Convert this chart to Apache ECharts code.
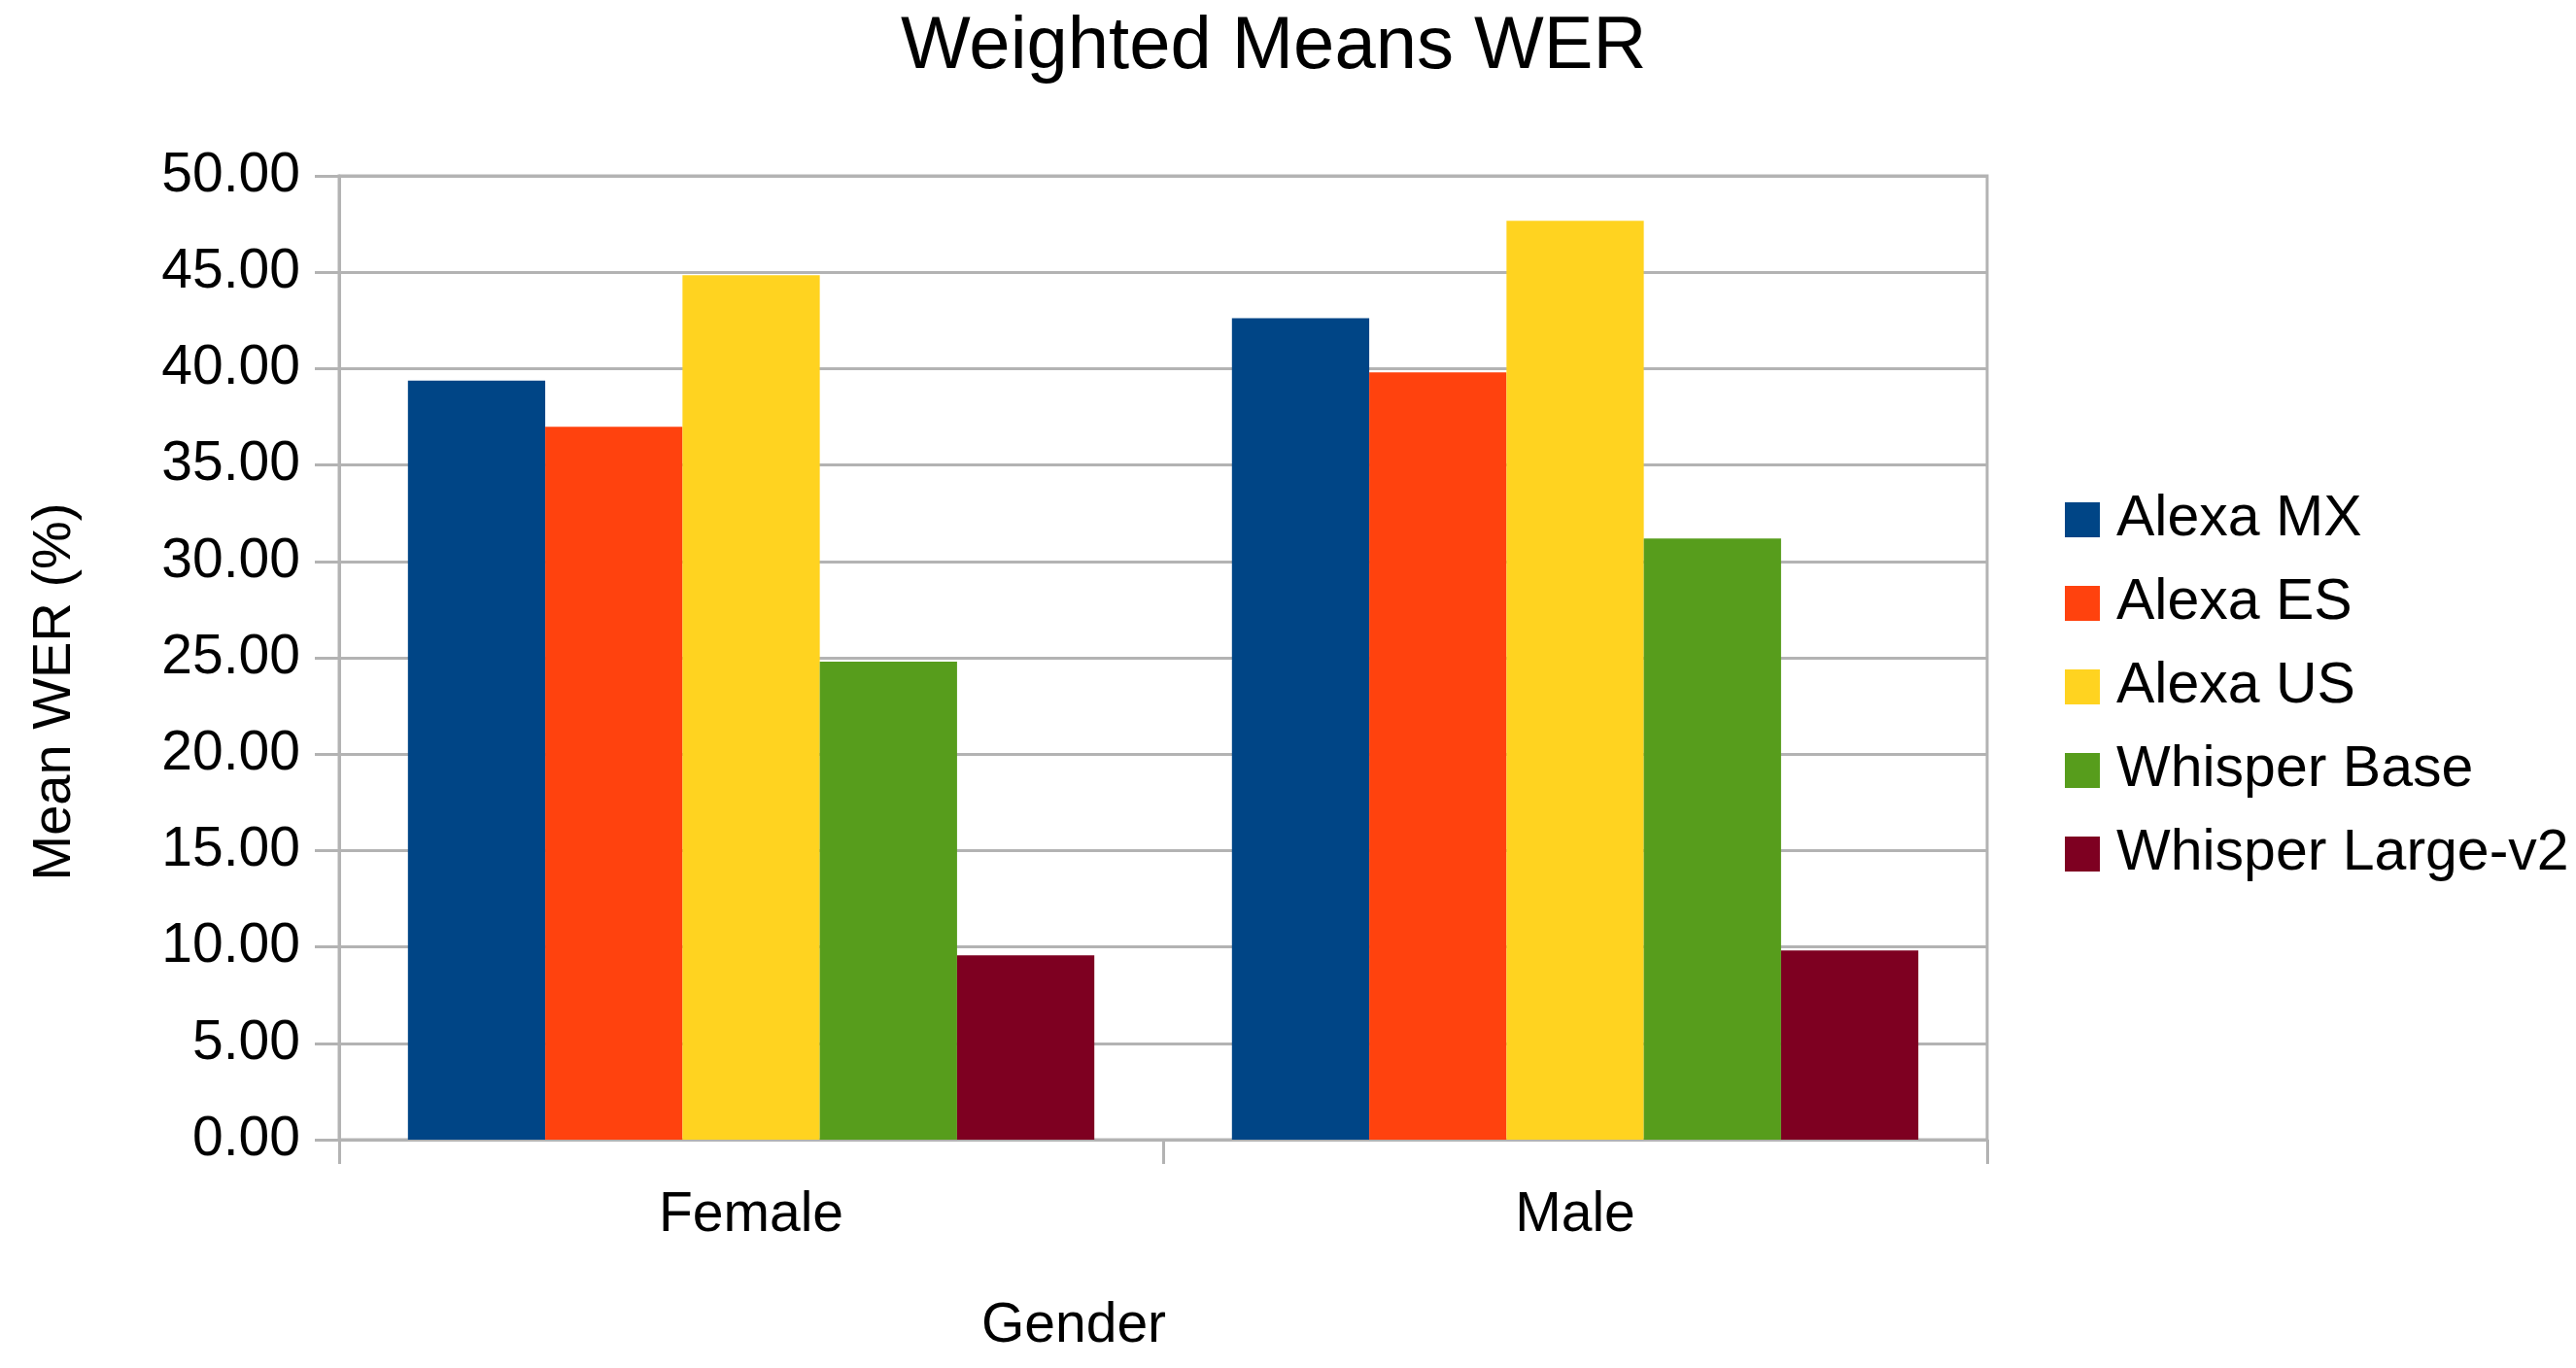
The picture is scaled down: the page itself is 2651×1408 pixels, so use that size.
<!DOCTYPE html>
<html>
<head>
<meta charset="utf-8">
<script src="https://cdn.jsdelivr.net/npm/echarts@6/dist/echarts.min.js"></script>
<style>html,body{margin:0;padding:0;background:#fff;}#c{width:2651px;height:1408px;}</style>
</head>
<body>
<div id="c"></div>
<script>
const categories = ['Female', 'Male'];
const seriesNames = ['Alexa MX', 'Alexa ES', 'Alexa US', 'Whisper Base', 'Whisper Large-v2'];
const alexaMX = [39.38, 42.62];
const alexaES = [36.98, 39.80];
const alexaUS = [44.84, 47.67];
const whisperBase = [24.80, 31.19];
const whisperLarge = [9.56, 9.81];
const colors = ['#004586', '#ff420e', '#ffd320', '#579d1c', '#7e0021'];
const yTicks = { min: 0, max: 50, interval: 5 };

const values = [alexaMX, alexaES, alexaUS, whisperBase, whisperLarge];
const FONT = 'Liberation Sans';
const chart = echarts.init(document.getElementById('c'));
chart.setOption({
  animation: false,
  backgroundColor: '#ffffff',
  title: {
    text: 'Weighted Means WER',
    left: 922, top: 6,
    textStyle: { fontFamily: FONT, fontSize: 76, fontWeight: 'normal', color: '#000' }
  },
  legend: {
    orient: 'vertical',
    left: 2120, top: 500,
    itemWidth: 36, itemHeight: 36, itemGap: 26,
    icon: 'rect',
    textStyle: { fontFamily: FONT, fontSize: 59, color: '#000', lineHeight: 60, padding: [0, 0, 0, 12] },
    data: seriesNames
  },
  grid: {
    left: 349, right: 606, top: 181, bottom: 235,
    show: true, borderColor: '#b3b3b3', borderWidth: 3, containLabel: false
  },
  xAxis: {
    type: 'category',
    data: categories,
    name: 'Gender',
    nameLocation: 'middle',
    nameGap: 164,
    nameTextStyle: { fontFamily: FONT, fontSize: 57, color: '#000', padding: [0, 184, 0, 0] },
    axisLine: { lineStyle: { color: '#b3b3b3', width: 3 } },
    axisTick: { show: true, length: 25, lineStyle: { color: '#b3b3b3', width: 3 } },
    axisLabel: { fontFamily: FONT, fontSize: 57, color: '#000', margin: 50 },
    splitLine: { show: false }
  },
  yAxis: {
    type: 'value',
    min: yTicks.min, max: yTicks.max, interval: yTicks.interval,
    name: 'Mean WER (%)',
    nameLocation: 'middle',
    nameGap: 264,
    nameTextStyle: { fontFamily: FONT, fontSize: 56, color: '#000', padding: [0, 70, 0, 0] },
    axisLine: { show: true, lineStyle: { color: '#b3b3b3', width: 3 } },
    axisTick: { show: true, length: 25, lineStyle: { color: '#b3b3b3', width: 3 } },
    axisLabel: { fontFamily: FONT, fontSize: 57, color: '#000', margin: 40, formatter: v => v.toFixed(2) },
    splitLine: { show: true, lineStyle: { color: '#b3b3b3', width: 3 } }
  },
  series: seriesNames.map((n, i) => ({
    name: n,
    type: 'bar',
    data: values[i],
    itemStyle: { color: colors[i] },
    barGap: '0%',
    barCategoryGap: '16.7%'
  }))
});
</script>
</body>
</html>
